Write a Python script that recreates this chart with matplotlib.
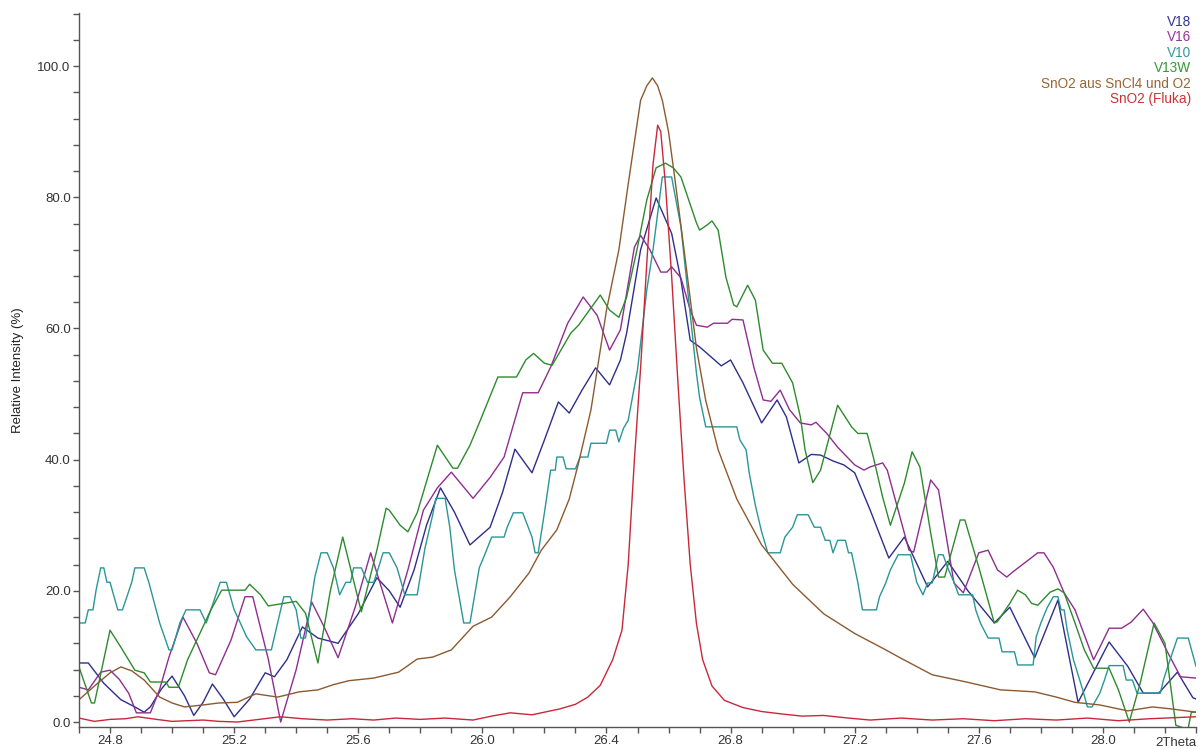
import matplotlib
matplotlib.use("Agg")
import matplotlib.pyplot as plt
from matplotlib.ticker import MultipleLocator

plt.rcParams['font.family'] = ['Liberation Sans', 'DejaVu Sans']

# ---- data (2Theta in degrees, relative intensity in %) ----
red_x = [24.70, 24.75, 24.80, 24.85, 24.89, 24.95, 25.00, 25.05, 25.10, 25.15, 25.21, 25.28, 25.35,
         25.42, 25.50, 25.58, 25.65, 25.72, 25.80, 25.88, 25.97, 26.03, 26.09, 26.16, 26.25, 26.30,
         26.34, 26.38, 26.42, 26.45, 26.47, 26.49, 26.51, 26.53, 26.55, 26.565, 26.575, 26.59, 26.61,
         26.63, 26.65, 26.67, 26.69, 26.71, 26.74, 26.78, 26.84, 26.90, 26.97, 27.03, 27.10, 27.18,
         27.25, 27.35, 27.45, 27.55, 27.65, 27.75, 27.85, 27.95, 28.05, 28.15, 28.25, 28.30]
red_y = [0.6, 0.1, 0.4, 0.5, 0.8, 0.4, 0.1, 0.2, 0.3, 0.1, 0.0, 0.4, 0.8,
         0.5, 0.3, 0.5, 0.3, 0.6, 0.4, 0.6, 0.3, 0.9, 1.4, 1.1, 2.0, 2.7,
         3.8, 5.6, 9.5, 14, 24, 40, 54, 70, 85, 91, 90, 82, 68,
         52, 37, 24, 15, 9.5, 5.5, 3.3, 2.2, 1.6, 1.2, 0.9, 1.0, 0.6,
         0.3, 0.6, 0.3, 0.5, 0.2, 0.5, 0.3, 0.6, 0.2, 0.5, 0.7, 0.8]

brown_x = [24.70, 24.75, 24.80, 24.835, 24.87, 24.91, 24.96, 25.00, 25.04, 25.10, 25.15, 25.21, 25.27,
           25.34, 25.41, 25.47, 25.52, 25.57, 25.65, 25.73, 25.76, 25.79, 25.84, 25.90, 25.97, 26.03,
           26.09, 26.15, 26.19, 26.24, 26.28, 26.31, 26.35, 26.38, 26.40, 26.44, 26.47, 26.51, 26.53,
           26.548, 26.565, 26.58, 26.60, 26.62, 26.65, 26.69, 26.72, 26.76, 26.82, 26.90, 27.00, 27.10,
           27.20, 27.30, 27.35, 27.45, 27.56, 27.67, 27.78, 27.85, 27.91, 27.99, 28.08, 28.16, 28.22, 28.30]
brown_y = [3.4, 5.5, 7.5, 8.4, 7.8, 6.4, 3.8, 2.9, 2.3, 2.6, 2.9, 3.0, 4.3,
           3.8, 4.6, 4.9, 5.7, 6.3, 6.7, 7.6, 8.6, 9.6, 9.9, 11.0, 14.6, 16.0,
           19.1, 22.7, 26.2, 29.3, 34, 39.5, 47.6, 56.7, 62.8, 72, 82, 94.8, 97,
           98.2, 97, 94.8, 90, 83, 72, 57, 49, 41.5, 34, 27, 21, 16.5,
           13.5, 11, 9.7, 7.2, 6.1, 4.9, 4.6, 3.8, 3.0, 2.6, 1.7, 2.3, 2.0, 1.5]

v18_x = [24.70, 24.73, 24.78, 24.835, 24.88, 24.91, 24.93, 24.965, 25.00, 25.04, 25.07, 25.10, 25.13,
         25.165, 25.20, 25.25, 25.30, 25.33, 25.37, 25.42, 25.47, 25.535, 25.60, 25.66, 25.70, 25.735,
         25.78, 25.82, 25.865, 25.91, 25.96, 26.025, 26.065, 26.105, 26.16, 26.20, 26.245, 26.28, 26.32,
         26.365, 26.41, 26.445, 26.465, 26.51, 26.56, 26.61, 26.64, 26.67, 26.70, 26.77, 26.80, 26.84,
         26.90, 26.95, 26.98, 27.02, 27.06, 27.09, 27.13, 27.165, 27.20, 27.25, 27.31, 27.36, 27.435,
         27.50, 27.565, 27.65, 27.70, 27.78, 27.855, 27.92, 28.02, 28.08, 28.13, 28.18, 28.24, 28.29, 28.30]
v18_y = [9.0, 9.0, 5.9, 3.4, 2.3, 1.5, 2.3, 5.0, 7.0, 4.0, 1.0, 3.0, 5.8,
         3.5, 0.8, 3.5, 7.5, 6.9, 9.5, 14.5, 12.8, 12.0, 16.5, 22.0, 20.0, 17.5,
         23.2, 30.0, 35.7, 32.0, 27.0, 29.7, 35.0, 41.6, 38.0, 43.0, 48.8, 47.1, 50.5,
         54.0, 51.4, 55.2, 59.3, 72.0, 79.9, 74.5, 67.4, 58.2, 57.2, 54.3, 55.2, 51.7,
         45.6, 49.1, 46.5, 39.5, 40.8, 40.7, 39.8, 39.2, 38.0, 32.3, 25.0, 28.2, 20.6,
         24.5, 20.0, 15.1, 17.5, 9.8, 18.6, 3.0, 12.2, 8.5, 4.4, 4.4, 7.6, 3.7, 3.5]

v16_x = [24.70, 24.73, 24.77, 24.80, 24.83, 24.86, 24.885, 24.93, 24.96, 24.99, 25.035, 25.08, 25.12,
         25.14, 25.19, 25.235, 25.26, 25.31, 25.35, 25.40, 25.45, 25.49, 25.535, 25.59, 25.64, 25.71,
         25.76, 25.81, 25.855, 25.90, 25.97, 26.025, 26.07, 26.13, 26.18, 26.22, 26.275, 26.325, 26.37,
         26.41, 26.445, 26.49, 26.51, 26.54, 26.575, 26.595, 26.61, 26.64, 26.67, 26.69, 26.725, 26.745,
         26.79, 26.805, 26.84, 26.875, 26.905, 26.93, 26.96, 26.99, 27.025, 27.06, 27.075, 27.11, 27.145,
         27.20, 27.23, 27.25, 27.29, 27.305, 27.34, 27.375, 27.39, 27.445, 27.47, 27.52, 27.55, 27.60,
         27.63, 27.66, 27.69, 27.71, 27.76, 27.79, 27.81, 27.84, 27.875, 27.91, 27.97, 27.99, 28.02,
         28.06, 28.09, 28.13, 28.16, 28.21, 28.25, 28.30]
v16_y = [5.3, 4.9, 7.6, 7.9, 6.5, 4.4, 1.4, 1.4, 5.0, 9.9, 16.0, 12.0, 7.5,
         7.2, 12.5, 19.1, 19.1, 9.6, 0.0, 8.0, 18.3, 14.5, 9.8, 17.5, 25.8, 15.1,
         23.2, 32.3, 35.7, 38.1, 34.1, 37.3, 40.4, 50.2, 50.2, 54.1, 60.8, 64.8, 62.0,
         56.7, 59.8, 72.4, 74.2, 72.0, 68.6, 68.6, 69.4, 67.7, 62.8, 60.5, 60.2, 60.8,
         60.8, 61.4, 61.3, 54.1, 49.1, 48.9, 50.6, 47.6, 45.6, 45.3, 45.7, 44.0, 41.9,
         39.2, 38.4, 38.9, 39.5, 38.4, 32.3, 26.2, 25.9, 36.9, 35.4, 21.2, 19.7, 25.8,
         26.2, 23.2, 22.1, 22.9, 24.7, 25.8, 25.8, 23.6, 19.7, 17.1, 9.5, 11.4, 14.3,
         14.3, 15.2, 17.2, 15.2, 10.5, 6.9, 6.7]

v13w_x = [24.70, 24.74, 24.75, 24.80, 24.835, 24.88, 24.91, 24.93, 24.98, 24.99, 25.02, 25.05, 25.125,
          25.16, 25.235, 25.25, 25.285, 25.31, 25.40, 25.43, 25.47, 25.51, 25.55, 25.61, 25.66, 25.69,
          25.70, 25.735, 25.76, 25.79, 25.855, 25.905, 25.92, 25.96, 25.99, 26.05, 26.11, 26.14, 26.165,
          26.20, 26.225, 26.285, 26.31, 26.38, 26.41, 26.44, 26.465, 26.50, 26.53, 26.56, 26.59, 26.615,
          26.64, 26.665, 26.69, 26.70, 26.725, 26.74, 26.76, 26.785, 26.81, 26.82, 26.855, 26.88, 26.905,
          26.935, 26.965, 27.00, 27.025, 27.04, 27.065, 27.09, 27.145, 27.19, 27.21, 27.24, 27.26, 27.29,
          27.315, 27.36, 27.385, 27.41, 27.445, 27.47, 27.49, 27.54, 27.555, 27.60, 27.65, 27.66, 27.70,
          27.725, 27.75, 27.77, 27.79, 27.83, 27.855, 27.875, 27.91, 27.94, 27.97, 28.02, 28.05, 28.085,
          28.12, 28.165, 28.20, 28.235, 28.26, 28.275, 28.285, 28.30]
v13w_y = [8.4, 2.9, 2.9, 14.0, 11.4, 7.9, 7.5, 6.1, 6.1, 5.3, 5.3, 9.5, 17.1,
          20.1, 20.1, 21.0, 19.4, 17.7, 18.4, 16.6, 9.0, 20.0, 28.2, 16.8, 26.2, 32.6,
          32.3, 30.0, 29.0, 31.9, 42.2, 38.7, 38.7, 42.2, 45.6, 52.6, 52.6, 55.2, 56.2,
          54.7, 54.4, 59.3, 60.5, 65.1, 62.8, 61.7, 64.8, 72.4, 79.6, 84.5, 85.2, 84.5,
          83.1, 79.6, 76.1, 75.0, 75.8, 76.4, 75.0, 67.8, 63.6, 63.3, 66.6, 64.3, 56.7,
          54.7, 54.7, 51.7, 46.5, 41.5, 36.5, 38.4, 48.3, 45.0, 44.0, 44.0, 40.4, 34.3,
          30.0, 36.4, 41.2, 38.9, 28.8, 22.1, 22.1, 30.8, 30.8, 23.6, 15.1, 15.3, 18.1,
          20.1, 19.4, 18.1, 17.8, 19.8, 20.3, 19.7, 15.1, 11.0, 8.2, 8.2, 4.9, 0.0,
          5.9, 15.1, 12.0, -0.5, -0.9, -0.9, 1.5, 1.5]

v10_x = [24.70, 24.72, 24.73, 24.745, 24.755, 24.77, 24.78, 24.79, 24.80, 24.825, 24.84, 24.87, 24.88,
         24.91, 24.925, 24.96, 24.99, 25.00, 25.025, 25.045, 25.09, 25.11, 25.125, 25.155, 25.175, 25.20,
         25.22, 25.24, 25.27, 25.32, 25.34, 25.36, 25.38, 25.40, 25.415, 25.43, 25.46, 25.48, 25.50,
         25.52, 25.54, 25.56, 25.575, 25.585, 25.61, 25.63, 25.65, 25.665, 25.68, 25.70, 25.725, 25.75,
         25.79, 25.815, 25.84, 25.85, 25.88, 25.895, 25.91, 25.94, 25.96, 25.99, 26.01, 26.03, 26.07,
         26.08, 26.10, 26.13, 26.16, 26.17, 26.18, 26.20, 26.22, 26.235, 26.24, 26.26, 26.27, 26.30,
         26.315, 26.34, 26.35, 26.40, 26.41, 26.43, 26.44, 26.455, 26.47, 26.50, 26.53, 26.55, 26.58,
         26.61, 26.64, 26.665, 26.69, 26.70, 26.72, 26.82, 26.83, 26.85, 26.86, 26.88, 26.90, 26.92,
         26.96, 26.975, 27.00, 27.015, 27.05, 27.07, 27.09, 27.105, 27.12, 27.13, 27.145, 27.17, 27.18,
         27.19, 27.21, 27.225, 27.27, 27.28, 27.30, 27.315, 27.34, 27.38, 27.40, 27.42, 27.435, 27.45,
         27.47, 27.485, 27.50, 27.52, 27.535, 27.58, 27.59, 27.605, 27.63, 27.665, 27.675, 27.715, 27.725,
         27.775, 27.785, 27.80, 27.82, 27.84, 27.855, 27.865, 27.875, 27.885, 27.905, 27.935, 27.95,
         27.965, 27.99, 28.005, 28.02, 28.065, 28.075, 28.095, 28.11, 28.185, 28.195, 28.21, 28.225,
         28.24, 28.275, 28.30]
v10_y = [15.1, 15.1, 17.1, 17.1, 20.1, 23.5, 23.5, 21.3, 21.3, 17.1, 17.1, 21.3, 23.5,
         23.5, 21.3, 15.1, 11.0, 11.0, 15.1, 17.1, 17.1, 15.1, 17.1, 21.3, 21.3, 17.1,
         15.1, 13.0, 11.0, 11.0, 15.1, 19.1, 19.1, 17.1, 12.8, 12.8, 22.1, 25.8, 25.8,
         23.5, 19.4, 21.3, 21.3, 23.5, 23.5, 21.3, 21.3, 23.5, 25.8, 25.8, 23.5, 19.4,
         19.4, 26.5, 31.6, 34.1, 34.1, 29.7, 23.2, 15.1, 15.1, 23.5, 25.8, 28.2, 28.2,
         29.7, 31.9, 31.9, 28.2, 25.8, 25.8, 31.9, 38.4, 38.4, 40.4, 40.4, 38.6, 38.6,
         40.4, 40.4, 42.5, 42.5, 44.5, 44.5, 42.7, 44.8, 46.0, 53.7, 65.9, 72.0, 83.1,
         83.1, 75.5, 64.3, 53.2, 49.5, 45.0, 45.0, 43.0, 41.5, 38.0, 33.0, 29.0, 25.8,
         25.8, 28.2, 29.7, 31.6, 31.6, 29.7, 29.7, 27.7, 27.7, 25.8, 27.7, 27.7, 25.8,
         25.8, 21.3, 17.1, 17.1, 19.1, 21.2, 23.2, 25.5, 25.5, 21.3, 19.4, 21.2, 21.2,
         25.5, 25.5, 23.5, 21.3, 19.4, 19.4, 17.1, 15.1, 12.8, 12.8, 10.7, 10.7, 8.7,
         8.7, 13.0, 15.1, 17.4, 19.1, 19.1, 17.1, 17.1, 14.0, 9.5, 4.9, 2.3,
         2.3, 4.4, 6.4, 8.6, 8.6, 6.4, 6.4, 4.4, 4.4, 6.4, 8.6, 10.7,
         12.8, 12.8, 8.5]

series = [
    ("V18", v18_x, v18_y, "#2e2e8c"),
    ("V16", v16_x, v16_y, "#8e2e8e"),
    ("V10", v10_x, v10_y, "#2a9696"),
    ("V13W", v13w_x, v13w_y, "#2e8a2e"),
    ("SnO2 aus SnCl4 und O2", brown_x, brown_y, "#8c5a30"),
    ("SnO2 (Fluka)", red_x, red_y, "#c8283a"),
]
label_colors = ["#333399", "#993399", "#339999", "#339933", "#996633", "#cc3333"]

fig = plt.figure(figsize=(12.04, 7.49), dpi=100)
ax = fig.add_axes([79 / 1204, 22 / 749, (1196 - 79) / 1204, (736 - 22) / 749])

for name, xs, ys, col in series:
    ax.plot(xs, ys, color=col, lw=1.0, solid_joinstyle="round")

ax.set_xlim(24.70, 28.30)
ax.set_ylim(-0.76, 108.1)

ax.xaxis.set_major_locator(MultipleLocator(0.4))
ax.xaxis.set_minor_locator(MultipleLocator(0.1))
ax.yaxis.set_major_locator(MultipleLocator(20))
ax.yaxis.set_minor_locator(MultipleLocator(4))
ax.xaxis.set_major_formatter(lambda v, p: f"{v:.1f}")
ax.yaxis.set_major_formatter(lambda v, p: f"{v:.1f}")

for side in ("top", "right"):
    ax.spines[side].set_visible(False)
for side in ("left", "bottom"):
    ax.spines[side].set_color("#555555")
    ax.spines[side].set_linewidth(1.0)

ax.tick_params(which="both", direction="out", length=4, width=1.0, color="#555555",
               labelsize=9.5, labelcolor="#333333", pad=2)

# hide the x labels that would sit under the axis title
for lbl in ax.get_xticklabels():
    pass

ax.text(1.0, -16 / 714, "2Theta", transform=ax.transAxes, ha="right", va="center",
        fontsize=9.5, color="#333333")
fig.text(18 / 1204, 1 - 370 / 749, "Relative Intensity (%)", rotation=90,
         ha="center", va="center", fontsize=9.5, color="#222222")

# series names, stacked in the upper right corner
for i, ((name, _, _, _), col) in enumerate(zip(series, label_colors)):
    fig.text(1191 / 1204, 1 - (22 + i * 15.4) / 749, name, ha="right", va="center",
             fontsize=9.8, color=col)

fig.savefig("out.png", dpi=100, facecolor="white")
